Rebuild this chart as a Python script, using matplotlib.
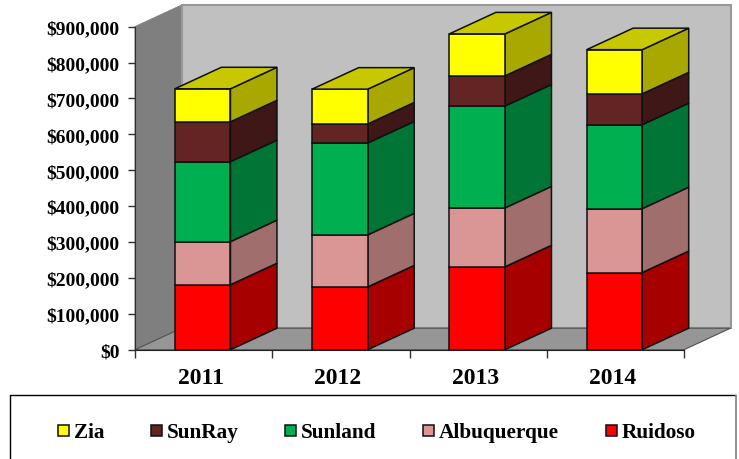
import matplotlib
matplotlib.use("Agg")
import matplotlib.pyplot as plt
from matplotlib.patches import Polygon, Rectangle
import numpy as np

years = ["2011", "2012", "2013", "2014"]
series_names = ["Ruidoso", "Albuquerque", "Sunland", "SunRay", "Zia"]
ruidoso = [181000, 175000, 231000, 215000]
albuquerque = [120000, 145000, 164000, 178000]
sunland = [223000, 256000, 284000, 234000]
sunray = [111000, 53000, 84000, 86000]
zia = [92000, 97000, 117000, 123000]
front_colors = ["#FF0000", "#D99694", "#00B050", "#632523", "#FFFF00"]
side_colors = ["#A60000", "#A06E6C", "#007535", "#3F1716", "#A8A800"]
top_colors = ["#CC0000", "#B87D7B", "#009044", "#4F1D1C", "#C8C800"]
yticks = list(range(0, 900001, 100000))

W, H = 739, 460
plt.rcParams["font.family"] = ["Liberation Serif", "DejaVu Serif"]
fig = plt.figure(figsize=(W / 100, H / 100), dpi=100)
ax = fig.add_axes([135 / W, 1 - 350.7 / H, 549 / W, 323 / H])
ax.set_xlim(0, 4)
ax.set_ylim(0, 900000)

dx = 46.5 / (549 / 4)              # depth expressed in category units
dy = 21.5 / 323 * 900000           # depth expressed in value units
ymax = 900000
bar_w = 0.405
K = dict(clip_on=False, joinstyle="miter")

# walls and floor
ax.add_patch(Polygon([(0, 0), (dx, dy), (dx, ymax + dy), (0, ymax)], fc="#7F7F7F", ec="#7F7F7F", lw=0.8, zorder=1, **K))
ax.add_patch(Polygon([(dx, dy), (4 + dx, dy), (4 + dx, ymax + dy), (dx, ymax + dy)], fc="#C0C0C0", ec="#989898", lw=1.5, zorder=1, **K))
ax.add_patch(Polygon([(0, 0), (4, 0), (4 + dx, dy), (dx, dy)], fc="#969696", ec="#505050", lw=0.8, zorder=2, **K))

# stacked 3D bars
stack = np.array([ruidoso, albuquerque, sunland, sunray, zia], dtype=float)
z = 3
for i in range(len(years)):
    x0 = i + 0.493 - bar_w / 2
    x1 = x0 + bar_w
    base = 0.0
    for s in range(len(series_names)):
        top = base + stack[s, i]
        style = dict(ec="#101010", lw=1.1, zorder=z, **K)
        ax.add_patch(Polygon([(x1, base), (x1 + dx, base + dy), (x1 + dx, top + dy), (x1, top)], fc=side_colors[s], **style))
        ax.add_patch(Polygon([(x0, base), (x1, base), (x1, top), (x0, top)], fc=front_colors[s], **style))
        if s == len(series_names) - 1:
            ax.add_patch(Polygon([(x0, top), (x1, top), (x1 + dx, top + dy), (x0 + dx, top + dy)], fc=top_colors[s], **style))
        base = top
    z += 1

# axes
for sp in ("top", "right"):
    ax.spines[sp].set_visible(False)
ax.spines["left"].set_color("#303030")
ax.spines["bottom"].set_color("#202020")
ax.spines["bottom"].set_zorder(20)
ax.patch.set_visible(False)
ax.set_yticks(yticks)
ax.set_yticklabels([f"${v:,}" for v in yticks], fontsize=14, fontweight="bold")
ax.set_xticks(range(5))
ax.set_xticklabels([])
ax.tick_params(axis="y", length=5, width=1, color="#303030", pad=6)
ax.tick_params(axis="x", length=6, width=1, color="#303030")
for i, y in enumerate(years):
    ax.text(i + 0.478, -0.086, y, transform=ax.get_xaxis_transform(), ha="center", va="center",
            fontsize=17, fontweight="bold", color="black")

# legend in its own frame
lg = fig.add_axes([0, 0, 1, 1], zorder=30)
lg.set_xlim(0, W)
lg.set_ylim(H, 0)
lg.axis("off")
lg.plot([735.5, 10, 10], [396, 396, 461], color="black", lw=1, clip_on=False, solid_capstyle="butt")
lg.plot([736, 736], [396, 461], color="#808080", lw=1.2, clip_on=False, solid_capstyle="butt")
marks = [58, 151, 285, 423, 606]
for name, mx in zip(series_names[::-1], marks):
    c = front_colors[series_names.index(name)]
    lg.add_patch(Rectangle((mx, 425.5), 11, 11, fc=c, ec="#101010", lw=1.1))
    lg.text(mx + 16, 431, name, ha="left", va="center_baseline", fontsize=15.3, fontweight="bold", color="black")

fig.savefig("out.png", dpi=100)
